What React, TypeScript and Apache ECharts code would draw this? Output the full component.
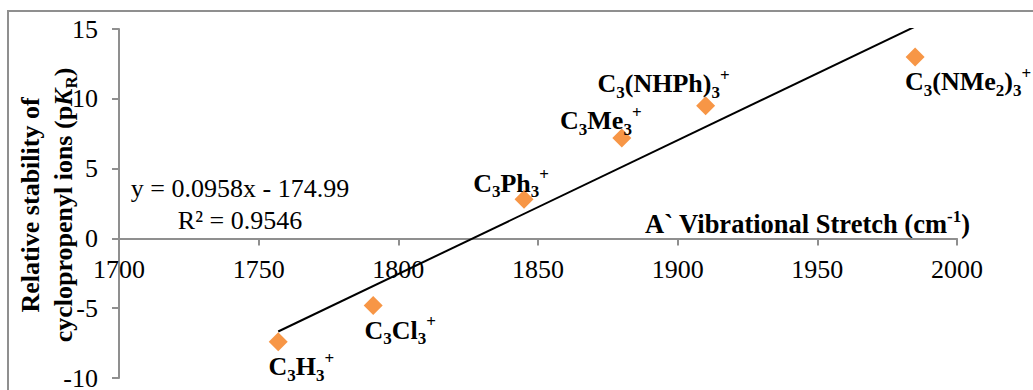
import React, { useEffect, useRef } from "react";
import * as echarts from "echarts";

// ---- data ----
const compoundLabels = [
  "{b|C}{s|3}{b|H}{s|3}{p|+}",
  "{b|C}{s|3}{b|Cl}{s|3}{p|+}",
  "{b|C}{s|3}{b|Ph}{s|3}{p|+}",
  "{b|C}{s|3}{b|Me}{s|3}{p|+}",
  "{b|C}{s|3}{b|(NHPh)}{s|3}{p|+}",
  "{b|C}{s|3}{b|(NMe}{s|2}{b|)}{s|3}{p|+}",
];
const stretchValues = [1757, 1791, 1845, 1880, 1910, 1985];
const pkrValues = [-7.4, -4.8, 2.8, 7.2, 9.5, 13.0];
const labelOffsets = [
  [23, 25],
  [27, 25],
  [-13, -16],
  [-21, -17],
  [-42, -22],
  [53, 25],
];
const xAxisRange = [1700, 2000];
const xAxisStep = 50;
const yAxisRange = [-10, 15];
const yAxisStep = 5;
const trendSlope = 0.0958;
const trendIntercept = -174.99;
const trendSpan = [1757, 1985];
const equationLines = ["y = 0.0958x - 174.99", "R² = 0.9546"];
const xAxisTitle = "{t|A` Vibrational Stretch (cm}{p|-1}{t|)}";
const yAxisTitle =
  "{t|Relative stability of}\n{t|cyclopropenyl ions (p}{i|K}{r|R}{t|)}";

const FONT = "'Liberation Serif', 'Times New Roman', serif";
const AXIS_GRAY = "#8f8f8f";
const ORANGE = "#F79646";

const GRID_TOP = 29;
const GRID_HEIGHT = 349;

export default function App() {
  const ref = useRef<HTMLDivElement>(null);

  useEffect(() => {
    if (!ref.current) return;
    const chart = echarts.init(ref.current, undefined, { renderer: "svg" });

    const points = stretchValues.map((x, i) => ({
      value: [x, pkrValues[i]],
      label: {
        formatter: compoundLabels[i],
        offset: labelOffsets[i],
      },
    }));
    const trendData = trendSpan.map((x) => [x, trendSlope * x + trendIntercept]);

    // the x axis crosses the y axis at value 0: shift it up from the grid bottom
    const zeroShift = ((0 - yAxisRange[0]) / (yAxisRange[1] - yAxisRange[0])) * GRID_HEIGHT;

    const labelRich = {
      b: { fontFamily: FONT, fontWeight: "bold", fontSize: 26, color: "#000", lineHeight: 34 },
      s: { fontFamily: FONT, fontWeight: "bold", fontSize: 17, color: "#000", lineHeight: 20, verticalAlign: "bottom" },
      p: { fontFamily: FONT, fontWeight: "bold", fontSize: 17, color: "#000", lineHeight: 20, verticalAlign: "top" },
    };

    chart.setOption({
      animation: false,
      backgroundColor: "#fff",
      grid: {
        left: 119,
        top: GRID_TOP,
        width: 838,
        height: GRID_HEIGHT,
        containLabel: false,
        outerBoundsMode: "none",
      },
      xAxis: {
        type: "value",
        min: xAxisRange[0],
        max: xAxisRange[1],
        interval: xAxisStep,
        position: "bottom",
        offset: -zeroShift,
        axisLine: { show: true, onZero: false, lineStyle: { color: AXIS_GRAY, width: 2 } },
        axisTick: { show: true, length: 7, inside: false, lineStyle: { color: AXIS_GRAY, width: 2 } },
        axisLabel: {
          fontFamily: FONT,
          fontSize: 26,
          color: "#000",
          margin: 18,
          formatter: (v: number) => String(v),
        },
        splitLine: { show: false },
      },
      yAxis: {
        type: "value",
        min: yAxisRange[0],
        max: yAxisRange[1],
        interval: yAxisStep,
        axisLine: { show: true, onZero: false, lineStyle: { color: AXIS_GRAY, width: 2 } },
        axisTick: { show: true, length: 7, inside: false, lineStyle: { color: AXIS_GRAY, width: 2 } },
        axisLabel: {
          fontFamily: FONT,
          fontSize: 26,
          color: "#000",
          margin: 21,
          formatter: (v: number) => String(v),
        },
        splitLine: { show: false },
      },
      series: [
        {
          type: "line",
          data: trendData,
          symbol: "none",
          clip: true,
          lineStyle: { color: "#000", width: 2 },
          z: 2,
          silent: true,
        },
        {
          type: "scatter",
          data: points,
          symbol: "diamond",
          symbolSize: 19,
          itemStyle: { color: ORANGE, opacity: 1 },
          z: 3,
          label: {
            show: true,
            position: "inside",
            color: "#000",
            rich: labelRich,
          },
        },
      ],
      graphic: [
        {
          type: "rect",
          silent: true,
          z: -10,
          shape: { x: 8, y: 11, width: 1300, height: 700 },
          style: { fill: "none", stroke: AXIS_GRAY, lineWidth: 2 },
        },
        {
          type: "text",
          silent: true,
          x: 240,
          y: 204,
          style: {
            text: equationLines.join("\n"),
            fontFamily: FONT,
            fontSize: 26,
            lineHeight: 32,
            fill: "#000",
            align: "center",
            verticalAlign: "middle",
          },
        },
        {
          type: "text",
          silent: true,
          x: 970,
          y: 224,
          style: {
            text: xAxisTitle,
            align: "right",
            verticalAlign: "middle",
            fill: "#000",
            rich: {
              t: { fontFamily: FONT, fontWeight: "bold", fontSize: 26.5, fill: "#000", lineHeight: 32 },
              p: { fontFamily: FONT, fontWeight: "bold", fontSize: 17, fill: "#000", lineHeight: 20, verticalAlign: "top" },
            },
          },
        },
        {
          type: "text",
          silent: true,
          x: 47,
          y: 205,
          rotation: Math.PI / 2,
          style: {
            text: yAxisTitle,
            align: "center",
            verticalAlign: "middle",
            fill: "#000",
            rich: {
              t: { fontFamily: FONT, fontWeight: "bold", fontSize: 26, fill: "#000", lineHeight: 33, align: "center" },
              i: { fontFamily: FONT, fontWeight: "bold", fontStyle: "italic", fontSize: 26, fill: "#000", lineHeight: 33, align: "center" },
              r: { fontFamily: FONT, fontWeight: "bold", fontSize: 17, fill: "#000", lineHeight: 22, verticalAlign: "bottom", align: "center" },
            },
          },
        },
      ],
    });

    return () => chart.dispose();
  }, []);

  return (
    <div
      ref={ref}
      style={{ position: "fixed", left: 0, top: 0, width: 1033, height: 390, background: "#fff", overflow: "hidden" }}
    />
  );
}
